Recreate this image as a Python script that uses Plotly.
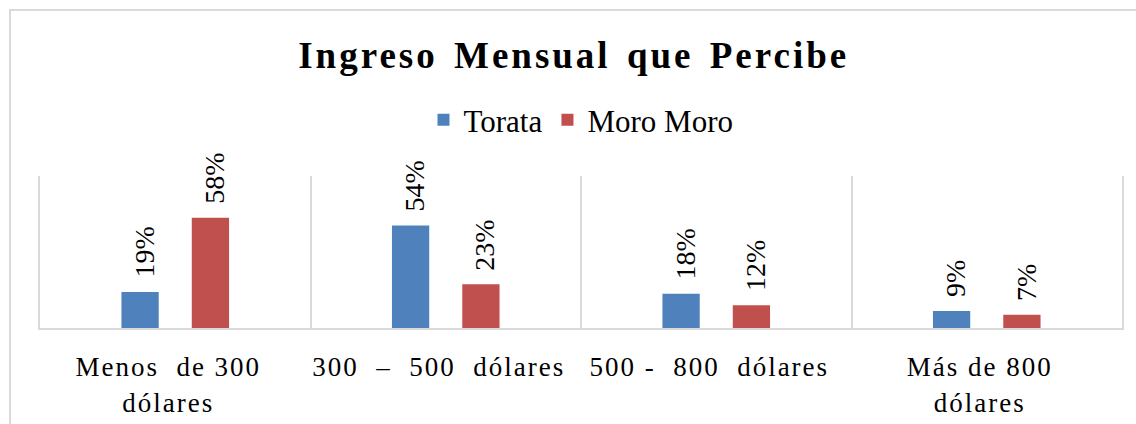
import plotly.graph_objects as go

categories = ["Menos  de 300<br>dólares", "300  –  500  dólares", "500 -  800  dólares", "Más de 800<br>dólares"]
series_names = ["Torata", "Moro Moro"]
torata = [0.19, 0.54, 0.18, 0.09]
moro_moro = [0.58, 0.23, 0.12, 0.07]
colors = ["#4F81BD", "#C0504D"]

W, H = 1136, 424
ML, MR, MT, MB = 40, 14, 176, 96
FONT = "Liberation Serif"

fig = go.Figure()
for name, vals, col in zip(series_names, [torata, moro_moro], colors):
    fig.add_trace(go.Bar(x=categories, y=vals, name=name, marker=dict(color=col, line=dict(width=0)),
                         hoverinfo="skip"))

# data labels
slot = (W - ML - MR) / len(categories) * (1 - 0.48) / 2
for vals, sign in [(torata, -1), (moro_moro, 1)]:
    for c, v in zip(categories, vals):
        fig.add_annotation(x=c, y=v, xref="x", yref="y", text=f"{round(v*100)}%",
                           textangle=-90, showarrow=False, yanchor="bottom", xanchor="center",
                           xshift=sign * slot / 2 + 4, yshift=12,
                           font=dict(family=FONT, size=28, color="#000000"))

pw = W - ML - MR
ph = H - MT - MB
def px2paper_x(px):
    return (px - ML) / pw
def px2paper_y(py):
    return (H - MB - py) / ph

fig.add_shape(type="rect", xref="paper", yref="paper",
              x0=px2paper_x(10), x1=px2paper_x(W + 10), y0=px2paper_y(H + 10), y1=px2paper_y(10),
              line=dict(color="#D9D9D9", width=2), fillcolor="rgba(0,0,0,0)", layer="below")

fig.update_layout(
    width=W, height=H,
    margin=dict(l=ML, r=MR, t=MT, b=MB, autoexpand=False),
    paper_bgcolor="white", plot_bgcolor="white",
    barmode="group", bargap=0.48, bargroupgap=0.47,
    title=dict(text="<b>Ingreso Mensual que Percibe</b>", x=0.505, xref="container", xanchor="center",
               y=1 - 55 / H, yref="container", yanchor="middle",
               font=dict(family=FONT, size=37, color="#000000")),
    legend=dict(orientation="h", x=0.5, xanchor="center", y=1 - 120 / H, yanchor="middle",
                yref="container", font=dict(family=FONT, size=31, color="#000000"),
                bgcolor="rgba(0,0,0,0)"),
    xaxis=dict(type="category", tickson="boundaries", showgrid=True, gridcolor="#D9D9D9", gridwidth=2,
               showline=True, linecolor="#D9D9D9", linewidth=2, ticks="", ticklabelstandoff=14,
               ticklabelshift=-7, automargin=False,
               tickfont=dict(family=FONT, size=27, color="#000000")),
    yaxis=dict(range=[0, 0.8], showgrid=False, zeroline=False, showticklabels=False, ticks="",
               showline=True, mirror=True, linecolor="#D9D9D9", linewidth=2, automargin=False),
    showlegend=True,
)

post = ("document.body.style.margin='0';"
        "document.querySelectorAll('.gtitle').forEach(function(e){e.style.letterSpacing='3px';e.style.wordSpacing='4px';});"
        "document.querySelectorAll('.xtick text').forEach(function(e){e.style.letterSpacing='2px';});")
fig.write_html("out.html", post_script=post, config={"displayModeBar": False})
